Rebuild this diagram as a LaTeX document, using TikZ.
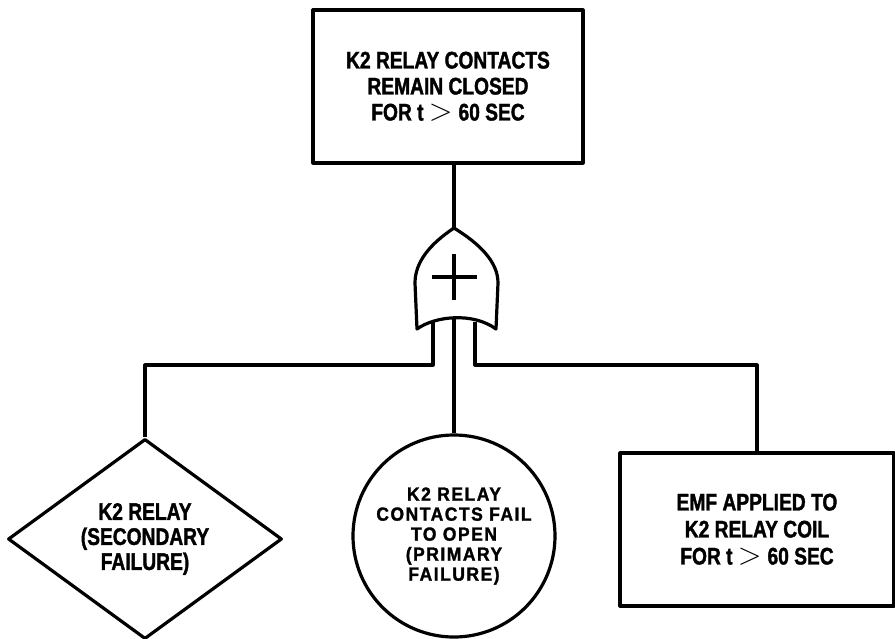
\documentclass[tikz,border=0pt]{standalone}
\usepackage{fontspec}
\usetikzlibrary{shapes.geometric}
\newfontfamily\evfont{Liberation Sans}[FakeStretch=0.8,FakeBold=1.5]
\newfontfamily\circfont{Liberation Sans}[FakeStretch=0.92,LetterSpace=8,FakeBold=1.5]
\newcommand{\gtsym}{\hspace{0.22em}\scalebox{1.25}{$>$}\hspace{0.25em}}
\begin{document}
\begin{tikzpicture}[x=1pt,y=-1pt,line width=3.2pt,line join=round,
  evbox/.style={draw,rectangle,inner sep=0pt,align=center,
    font=\evfont\bfseries\fontsize{24}{26}\selectfont},
  evdia/.style={draw,diamond,inner sep=0pt,align=center,
    font=\evfont\bfseries\fontsize{24}{25}\selectfont},
  evcirc/.style={draw,circle,inner sep=0pt,align=center,
    font=\circfont\bfseries\fontsize{19}{20}\selectfont}]
\useasboundingbox (0,0) rectangle (895,638);
% top event
\node[evbox,minimum width=270pt,minimum height=153pt] (top) at (448,86.5)
  {K2 RELAY CONTACTS\\REMAIN CLOSED\\FOR t\gtsym60 SEC};
% OR gate
\coordinate (gtip) at (454,228);
\coordinate (gl) at (433,322);
\coordinate (gm) at (454,318);
\coordinate (gr) at (475,322);
\draw (gtip) .. controls (430,244) and (415,262) .. (415,283) -- (417,329)
  .. controls (435,316) and (473,312) .. (496,329) -- (498,283)
  .. controls (498,262) and (480,244) .. (gtip) -- cycle;
\draw (432,277) -- (477,277);
\draw (454,254) -- (454,300);
\draw (top.south -| gtip) -- (gtip);
% inputs
\coordinate (lvl) at (0,365);
\node[evdia,minimum width=274pt,minimum height=161pt] (sec) at (145,539)
  {K2 RELAY\\(SECONDARY\\FAILURE)};
\node[evcirc,minimum size=202pt] (prim) at (454,536)
  {K2 RELAY\\CONTACTS FAIL\\TO OPEN\\(PRIMARY\\FAILURE)};
\node[evbox,minimum width=274pt,minimum height=153pt,
  font=\evfont\bfseries\fontsize{24}{27}\selectfont] (emf) at (757,529.5)
  {EMF APPLIED TO\\K2 RELAY COIL\\FOR t\gtsym60 SEC};
\draw (gl) -- (gl |- lvl) -| (sec.north);
\draw (gm) -- (prim.north);
\draw (gr) -- (gr |- lvl) -| (emf.north);
\end{tikzpicture}
\end{document}
